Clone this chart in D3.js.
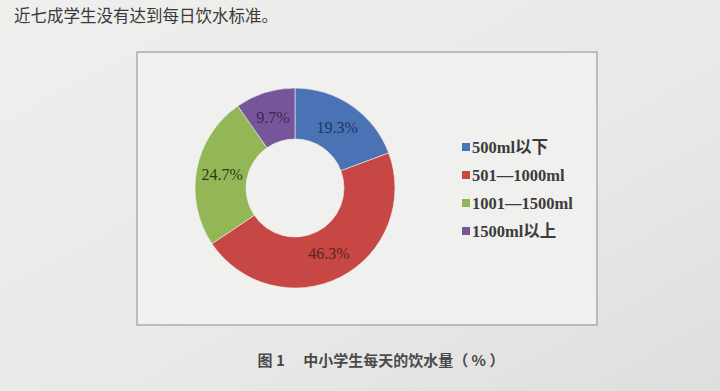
<!DOCTYPE html>
<html>
<head>
<meta charset="utf-8">
<script src="https://cdn.jsdelivr.net/npm/d3@7"></script>
<style>
  html, body { margin: 0; padding: 0; background: #e9e9e7; }
  svg { display: block; }
</style>
</head>
<body>
<svg id="chart" width="720" height="391"></svg>
<script>
/***************************************************************
    Data
****************************************************************/
const categories = ["500ml以下", "501—1000ml", "1001—1500ml", "1500ml以上"];
const shares = [19.3, 46.3, 24.7, 9.7];
const sliceColors = ["#4a72b4", "#c64743", "#93b757", "#77559b"];
const labelColors = ["#1f3566", "#5a2322", "#2b3a18", "#3b2752"];
const headline = "近七成学生没有达到每日饮水标准。";
const caption = "图 1　 中小学生每天的饮水量（ % ）";

/***************************************************************
    Drawing
****************************************************************/
const svg = d3.select("#chart");

// page shading like a photo of paper
const defs = svg.append("defs");
const grad = defs.append("linearGradient").attr("id", "paper")
    .attr("x1", "0").attr("y1", "0").attr("x2", "1").attr("y2", "1");
grad.append("stop").attr("offset", "0%").attr("stop-color", "#efefed");
grad.append("stop").attr("offset", "60%").attr("stop-color", "#e9e9e7");
grad.append("stop").attr("offset", "100%").attr("stop-color", "#dedede");
svg.append("rect").attr("width", 720).attr("height", 391).attr("fill", "url(#paper)");

svg.append("text")
    .attr("x", 14).attr("y", 22)
    .attr("font-family", "'Noto Sans CJK SC', sans-serif")
    .attr("font-size", 16.5).attr("fill", "#3a3a3a")
    .text(headline);

// chart frame
svg.append("rect")
    .attr("x", 137).attr("y", 52).attr("width", 460).attr("height", 273)
    .attr("fill", "#f0f0ee").attr("stroke", "#8c8c8c").attr("stroke-width", 1);

const cx = 295, cy = 188, outerR = 100, innerR = 49;
const pie = d3.pie().sort(null).value(d => d);
const arc = d3.arc().innerRadius(innerR).outerRadius(outerR);
const labelArc = d3.arc().innerRadius(74).outerRadius(74);
const arcs = pie(shares);

const g = svg.append("g").attr("transform", `translate(${cx},${cy})`);
g.selectAll("path").data(arcs).enter().append("path")
    .attr("d", arc)
    .attr("fill", (d, i) => sliceColors[i])
    .attr("stroke", "#f0f0ee").attr("stroke-width", 0.6);

g.selectAll("text").data(arcs).enter().append("text")
    .attr("transform", d => `translate(${labelArc.centroid(d)})`)
    .attr("text-anchor", "middle").attr("dy", "0.35em")
    .attr("font-family", "'Liberation Serif', serif")
    .attr("font-size", 16)
    .attr("fill", (d, i) => labelColors[i])
    .text(d => d.data.toFixed(1) + "%");

// legend
const legend = svg.append("g").attr("transform", "translate(462,147)");
const rows = legend.selectAll("g").data(categories).enter().append("g")
    .attr("transform", (d, i) => `translate(0,${i * 28})`);
rows.append("rect")
    .attr("x", 0).attr("y", -4).attr("width", 8).attr("height", 8)
    .attr("fill", (d, i) => sliceColors[i]);
rows.append("text")
    .attr("x", 10).attr("dy", "0.36em")
    .attr("font-family", "'Liberation Serif', 'Noto Sans CJK SC', serif")
    .attr("font-weight", "bold")
    .attr("font-size", 16.5).attr("fill", "#3c3c3c")
    .text(d => d);

svg.append("text")
    .attr("x", 381).attr("y", 366)
    .attr("text-anchor", "middle")
    .attr("font-family", "'Noto Sans CJK SC', sans-serif")
    .attr("font-weight", "bold")
    .attr("font-size", 15).attr("fill", "#4a4a4a")
    .text(caption);
</script>
</body>
</html>
